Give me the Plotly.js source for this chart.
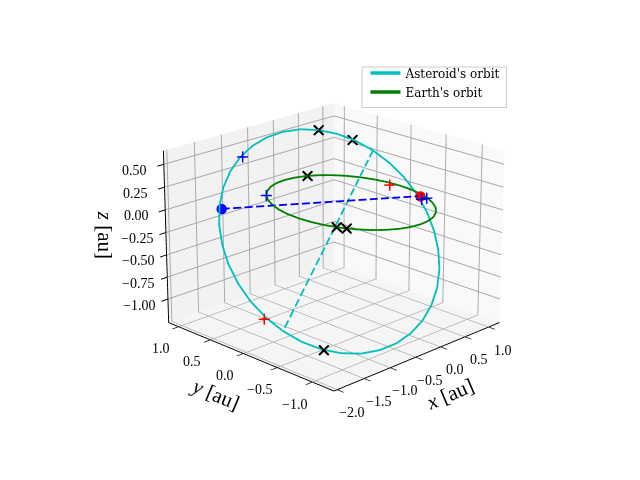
<!DOCTYPE html>
<html>
<head>
<meta charset="utf-8">
<script src="https://cdn.plot.ly/plotly-3.0.1.min.js"></script>
<style>html,body{margin:0;padding:0;width:640px;height:480px;overflow:hidden;background:#fff}
#wrap{position:absolute;left:0;top:0;width:640px;height:480px;overflow:hidden}
#plot{position:absolute}</style>
</head>
<body>
<div id="wrap"><div id="plot"></div></div>
<script>
// Asteroid's orbit
const astX=[0.890,0.966,0.998,0.983,0.924,0.821,0.678,0.500,0.292,0.058,-0.192,-0.450,-0.712,-0.967,-1.206,-1.425,-1.616,-1.772,-1.890,-1.966,-1.998,-1.983,-1.924,-1.821,-1.678,-1.500,-1.292,-1.058,-0.808,-0.550,-0.288,-0.033,0.206,0.425,0.616,0.772,0.890];
const astY=[0.315,0.126,-0.068,-0.264,-0.453,-0.629,-0.790,-0.929,-1.041,-1.124,-1.175,-1.193,-1.176,-1.125,-1.043,-0.930,-0.792,-0.632,-0.455,-0.266,-0.072,0.124,0.313,0.489,0.650,0.789,0.901,0.984,1.035,1.053,1.036,0.985,0.903,0.790,0.652,0.492,0.315];
const astZ=[0.343,0.233,0.108,-0.030,-0.176,-0.325,-0.473,-0.615,-0.748,-0.867,-0.968,-1.048,-1.106,-1.138,-1.146,-1.126,-1.082,-1.014,-0.923,-0.813,-0.688,-0.550,-0.404,-0.255,-0.107,0.035,0.168,0.287,0.388,0.468,0.526,0.558,0.566,0.546,0.502,0.434,0.343];
// Earth's orbit
const earthX=[1,0.985,0.94,0.866,0.766,0.643,0.5,0.342,0.174,0,-0.174,-0.342,-0.5,-0.643,-0.766,-0.866,-0.94,-0.985,-1,-0.985,-0.94,-0.866,-0.766,-0.643,-0.5,-0.342,-0.174,0,0.174,0.342,0.5,0.643,0.766,0.866,0.94,0.985,1];
const earthY=[0,0.174,0.342,0.5,0.643,0.766,0.866,0.94,0.985,1,0.985,0.94,0.866,0.766,0.643,0.5,0.342,0.174,0,-0.174,-0.342,-0.5,-0.643,-0.766,-0.866,-0.94,-0.985,-1,-0.985,-0.94,-0.866,-0.766,-0.643,-0.5,-0.342,-0.174,0];
const earthZ=[0,0,0,0,0,0,0,0,0,0,0,0,0,0,0,0,0,0,0,0,0,0,0,0,0,0,0,0,0,0,0,0,0,0,0,0,0];
// Dashed axes (end points)
const apsisX=[0.890,-1.890], apsisY=[0.315,-0.455], apsisZ=[0.343,-0.923];
const nodeX=[-1.48,0.93], nodeY=[0.775,-0.43], nodeZ=[0,0];
// Markers
const blackX=[0.425,0.75,-1.595,0.375,-0.887,-0.83];
const blackY=[0.79,0.52,-0.81,0.927,-0.462,-0.56];
const blackZ=[0.546,0.44,-1.09,0,0,0];
const blueX=[-0.85,-0.683,0.65,0.71];
const blueY=[0.958,0.737,-0.562,-0.592];
const blueZ=[0.42,0.012,0.042,0.052];
const redX=[0.88,-2.05];
const redY=[0.058,-0.31];
const redZ=[0.012,-0.80];
const redDotX=[0.86], redDotY=[-0.40], redDotZ=[0];
const blueDotX=[-1.48], blueDotY=[0.775], blueDotZ=[0];
// Axes
const xRange=[-2.06,1.23], yRange=[-1.30,1.16], zRange=[-1.269,0.647];
const xTicks=[-2,-1.5,-1,-0.5,0,0.5,1];
const xLabels=['−2.0','−1.5','−1.0','−0.5','0.0','0.5','1.0'];
const yTicks=[-1,-0.5,0,0.5,1];
const yLabels=['−1.0','−0.5','0.0','0.5','1.0'];
const zTicks=[-1,-0.75,-0.5,-0.25,0,0.25,0.5];
const zLabels=['−1.00','−0.75','−0.50','−0.25','0.00','0.25','0.50'];

const SIZE=1652, CX=333.5, CY=237.5;
const left=CX-SIZE/2, top_=CY-SIZE/2;
const el=document.getElementById('plot');
el.style.left=left+'px'; el.style.top=top_+'px';
el.style.width=SIZE+'px'; el.style.height=SIZE+'px';

// Cut a straight line between two end points into dashes: the library's own dash patterns are far too coarse or too fine here.
function dashes(ends,count){const out=[];const a=ends[0],b=ends[1];
  for(let i=0;i<count;i++){out.push(a+(b-a)*i/count, a+(b-a)*(i+0.7)/count, null);}
  return out;}
const DASHES=18;

const FONT='Liberation Serif';
const tickFont={family:FONT,size:14,color:'#000'};
const ann=[];
xTicks.forEach((v,i)=>ann.push({x:v,y:yRange[0],z:zRange[0],text:xLabels[i],showarrow:false,xshift:14,yshift:-23,font:tickFont}));
yTicks.forEach((v,i)=>ann.push({x:xRange[0],y:v,z:zRange[0],text:yLabels[i],showarrow:false,xshift:-18,yshift:-22,font:tickFont}));
zTicks.forEach((v,i)=>ann.push({x:xRange[0],y:yRange[1],z:v,text:zLabels[i],showarrow:false,xshift:-29,yshift:-6,font:tickFont}));
const titleFont={family:FONT,size:21,color:'#000'};
ann.push({x:-0.42,y:yRange[0],z:zRange[0],text:'<i>x</i> [au]',showarrow:false,xshift:30,yshift:-38,textangle:-23,font:titleFont});
ann.push({x:xRange[0],y:-0.07,z:zRange[0],text:'<i>y</i> [au]',showarrow:false,xshift:-33,yshift:-39,textangle:23,font:titleFont});
ann.push({x:xRange[0],y:yRange[1],z:-0.31,text:'<i>z</i> [au]',showarrow:false,xshift:-61,yshift:3,textangle:90,font:titleFont});

function ax(range,ticks,bg){return {range:range,autorange:false,tickmode:'array',tickvals:ticks,ticktext:ticks.map(()=>''),
  showticklabels:false,ticks:'outside',ticklen:7,tickcolor:'#000',tickwidth:2,showline:true,linecolor:'#000',linewidth:2,
  showgrid:true,gridcolor:'#a8a8a8',gridwidth:2,zeroline:false,showspikes:false,showbackground:true,backgroundcolor:bg,title:{text:''}};}

const LW=3.6;
const plus=(color,xs,ys,zs)=>({type:'scatter3d',mode:'text',showlegend:false,x:xs,y:ys,z:zs,text:xs.map(()=>'+'),textposition:'middle center',textfont:{family:'DejaVu Sans',size:18,color:color}});
const traces=[
 {type:'scatter3d',mode:'lines',name:"Asteroid's orbit",x:astX,y:astY,z:astZ,line:{color:'#00bfbf',width:LW}},
 {type:'scatter3d',mode:'lines',name:"Earth's orbit",x:earthX,y:earthY,z:earthZ,line:{color:'#008000',width:LW}},
 {type:'scatter3d',mode:'lines',showlegend:false,connectgaps:false,x:dashes(apsisX,DASHES),y:dashes(apsisY,DASHES),z:dashes(apsisZ,DASHES),line:{color:'#00bfbf',width:LW}},
 {type:'scatter3d',mode:'lines',showlegend:false,connectgaps:false,x:dashes(nodeX,DASHES),y:dashes(nodeY,DASHES),z:dashes(nodeZ,DASHES),line:{color:'#0000ff',width:LW}},
 {type:'scatter3d',mode:'markers',showlegend:false,x:redDotX,y:redDotY,z:redDotZ,marker:{color:'#ff0000',size:6,symbol:'circle'}},
 {type:'scatter3d',mode:'markers',showlegend:false,x:blueDotX,y:blueDotY,z:blueDotZ,marker:{color:'#0000ff',size:6,symbol:'circle'}},
 {type:'scatter3d',mode:'markers',showlegend:false,x:blackX,y:blackY,z:blackZ,marker:{color:'#000',size:2.4,symbol:'x'}},
 plus('#0000ff',blueX,blueY,blueZ),
 plus('#ff0000',redX,redY,redZ)
];
const paperX=px=>(px-left)/SIZE, paperY=py=>1-(py-top_)/SIZE;
const layout={width:SIZE,height:SIZE,margin:{l:0,r:0,t:0,b:0},paper_bgcolor:'#fff',showlegend:true,
 shapes:[{type:'rect',xref:'paper',yref:'paper',x0:paperX(361.5),x1:paperX(506),y0:paperY(107),y1:paperY(66.5),line:{color:'#ccc',width:1},fillcolor:'rgba(255,255,255,0.8)',layer:'above'}],
 legend:{x:paperX(365),y:paperY(58),xanchor:'left',yanchor:'top',bgcolor:'rgba(0,0,0,0)',borderwidth:0,traceorder:'normal',tracegroupgap:0,font:{family:'DejaVu Serif',size:12,color:'#000'}},
 scene:{domain:{x:[0,1],y:[0,1]},aspectmode:'manual',aspectratio:{x:1,y:1,z:0.77},
  camera:{center:{x:0,y:0,z:0},up:{x:0,y:0,z:1},eye:{x:-5.58,y:-5.58,z:2.87}},
  xaxis:ax(xRange,xTicks,'#f9f9f9'),yaxis:ax(yRange,yTicks,'#f2f2f2'),zaxis:ax(zRange,zTicks,'#f5f5f5'),annotations:ann}};
Plotly.newPlot(el,traces,layout,{displayModeBar:false});
</script>
</body>
</html>
